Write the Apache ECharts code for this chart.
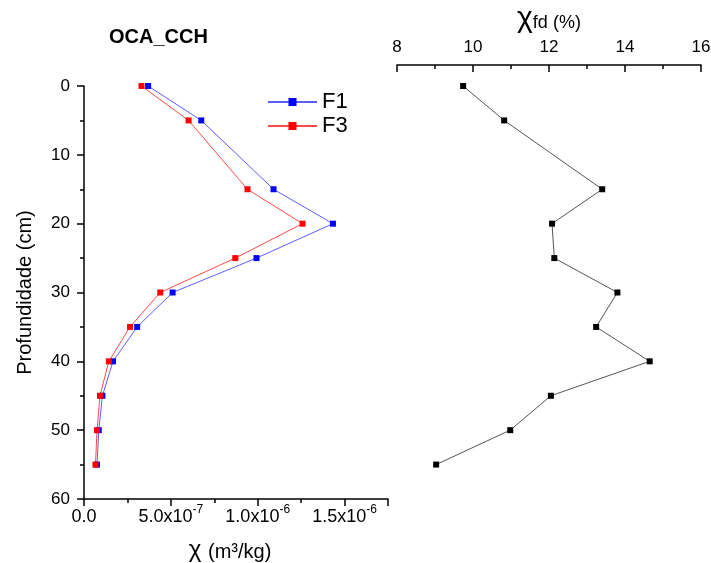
<!DOCTYPE html>
<html>
<head>
<meta charset="utf-8">
<script src="https://cdn.jsdelivr.net/npm/echarts@6/dist/echarts.min.js"></script>
<style>
  html, body { margin: 0; padding: 0; background: #fff; }
  #main { width: 711px; height: 563px; }
</style>
</head>
<body>
<div id="main"></div>
<script>
// profundidade (cm)
var depth = [0, 5, 15, 20, 25, 30, 35, 40, 45, 50, 55];
// susceptibilidade (m3/kg)
var f1 = [3.69e-7, 6.75e-7, 1.091e-6, 1.433e-6, 9.93e-7, 5.10e-7, 3.06e-7, 1.67e-7, 1.06e-7, 8.5e-8, 7.5e-8];
var f3 = [3.31e-7, 6.02e-7, 9.41e-7, 1.258e-6, 8.71e-7, 4.39e-7, 2.65e-7, 1.43e-7, 9.2e-8, 7.5e-8, 6.6e-8];
// chi fd (%)
var chiFd = [9.74, 10.82, 13.40, 12.08, 12.14, 13.80, 13.24, 14.65, 12.05, 10.98, 9.03];

function pares(xs) {
  return xs.map(function (v, i) { return [v, depth[i]]; });
}

var myChart = echarts.init(document.getElementById('main'));
var fonte = 'Liberation Sans, Arial, sans-serif';

option = {
  backgroundColor: '#fff',
  animation: false,
  textStyle: { fontFamily: fonte, color: '#000' },
  title: {
    text: 'OCA_CCH',
    left: 104,
    top: 22,
    textStyle: { fontSize: 20, fontWeight: 'bold', color: '#000', fontFamily: fonte }
  },
  legend: {
    orient: 'vertical',
    left: 262,
    top: 86,
    itemWidth: 49,
    itemHeight: 10,
    itemGap: 2,
    textStyle: { fontSize: 22, color: '#000' },
    data: ['F1', 'F3']
  },
  grid: [
    { left: 84, top: 86, width: 304, height: 413, containLabel: false, outerBoundsMode: 'none' },
    // a grade da direita começa no eixo do topo (y = 65)
    { left: 397, top: 65, width: 304, height: 434, containLabel: false, outerBoundsMode: 'none' }
  ],
  xAxis: [{
    gridIndex: 0,
    type: 'value',
    min: 0,
    max: 1.75e-6,
    interval: 5e-7,
    splitLine: { show: false },
    axisLine: { onZero: false, lineStyle: { color: '#000', width: 1.5 } },
    axisTick: { inside: false, length: 7, lineStyle: { color: '#000', width: 1.5 } },
    minorTick: { show: true, splitNumber: 2, length: 4, lineStyle: { color: '#000', width: 1.5 } },
    axisLabel: {
      margin: 5,
      showMaxLabel: false,
      formatter: function (v) {
        if (v === 0) return '{b|0.0}';
        if (v > 1.6e-6) return '';
        var e = Math.floor(Math.log10(v) + 1e-9);
        var m = v / Math.pow(10, e);
        return '{b|' + m.toFixed(1) + 'x10}{sup|' + e + '}';
      },
      rich: {
        b: { fontSize: 18, fontFamily: fonte, color: '#000', verticalAlign: 'bottom', lineHeight: 22 },
        sup: { fontSize: 12, fontFamily: fonte, color: '#000', verticalAlign: 'top', lineHeight: 22 }
      }
    },
    name: '{chi|χ}  {b|(m³/kg)}',
    nameLocation: 'middle',
    nameGap: 37,
    nameTextStyle: {
      padding: [0, 12, 0, 0],
      rich: {
        chi: { fontSize: 24, fontFamily: fonte, color: '#000', verticalAlign: 'bottom', lineHeight: 26 },
        b: { fontSize: 20, fontFamily: fonte, color: '#000', verticalAlign: 'bottom', lineHeight: 26 }
      }
    }
  }, {
    gridIndex: 1,
    type: 'value',
    position: 'top',
    min: 8,
    max: 16,
    interval: 2,
    splitLine: { show: false },
    axisLine: { onZero: false, lineStyle: { color: '#000', width: 1.5 } },
    axisTick: { inside: true, length: 7, lineStyle: { color: '#000', width: 1.5 } },
    minorTick: { show: true, splitNumber: 2, length: 4, lineStyle: { color: '#000', width: 1.5 } },
    axisLabel: { margin: 9, color: '#000', fontSize: 17 },
    name: '{chi|χ}{fd|fd (%)}',
    nameLocation: 'middle',
    nameGap: 25,
    nameTextStyle: {
      rich: {
        chi: { fontSize: 30, fontFamily: fonte, color: '#000', verticalAlign: 'middle', lineHeight: 32 },
        fd: { fontSize: 18, fontFamily: fonte, color: '#000', verticalAlign: 'middle', lineHeight: 32, padding: [8, 0, 0, 0] }
      }
    }
  }],
  yAxis: [{
    gridIndex: 0,
    type: 'value',
    inverse: true,
    min: 0,
    max: 60,
    interval: 10,
    splitLine: { show: false },
    axisLine: { onZero: false, lineStyle: { color: '#000', width: 1.5 } },
    axisTick: { inside: false, length: 7, lineStyle: { color: '#000', width: 1.5 } },
    minorTick: { show: true, splitNumber: 2, length: 4, lineStyle: { color: '#000', width: 1.5 } },
    axisLabel: { margin: 14, color: '#000', fontSize: 17 },
    name: 'Profundidade (cm)',
    nameLocation: 'middle',
    nameGap: 49,
    nameTextStyle: { fontSize: 20, color: '#000' }
  }, {
    gridIndex: 1,
    type: 'value',
    inverse: true,
    // 21 px acima da profundidade 0, na mesma escala (413 px / 60 cm)
    min: -3.05,
    max: 60,
    show: false
  }],
  series: [{
    name: 'F1',
    type: 'line',
    xAxisIndex: 0,
    yAxisIndex: 0,
    symbol: 'rect',
    symbolSize: 6,
    itemStyle: { color: '#0000ff' },
    lineStyle: { color: '#5c5cff', width: 1 },
    data: pares(f1)
  }, {
    name: 'F3',
    type: 'line',
    xAxisIndex: 0,
    yAxisIndex: 0,
    symbol: 'rect',
    symbolSize: 6,
    itemStyle: { color: '#ff0000' },
    lineStyle: { color: '#ff4a4a', width: 1 },
    data: pares(f3)
  }, {
    name: 'chiFd',
    type: 'line',
    xAxisIndex: 1,
    yAxisIndex: 1,
    symbol: 'rect',
    symbolSize: 6,
    itemStyle: { color: '#000' },
    lineStyle: { color: '#555', width: 1 },
    data: pares(chiFd)
  }]
};

myChart.setOption(option);
</script>
</body>
</html>
